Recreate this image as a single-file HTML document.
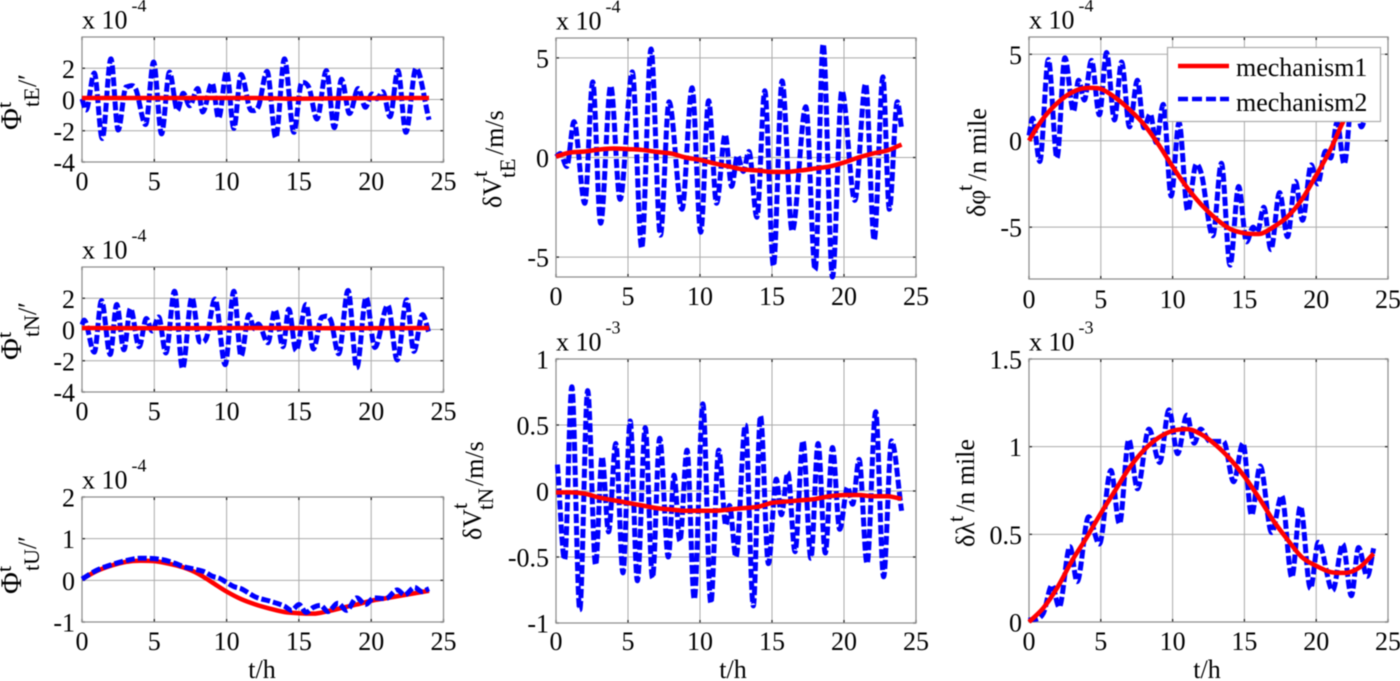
<!DOCTYPE html>
<html lang="en">
<head>
<meta charset="utf-8">
<title>Attitude, velocity and position error curves</title>
<style>
html,body{margin:0;padding:0;background:#fff;width:1400px;height:681px;overflow:hidden}
svg{display:block;font-family:"Liberation Serif","DejaVu Serif",serif;fill:#000;filter:blur(.4px)}
</style>
</head>
<body>
<svg id="figure" xmlns="http://www.w3.org/2000/svg" width="1400" height="681" viewBox="0 0 1400 681">
<g id="plots"></g>
<g id="legend">
  <rect x="1167.5" y="47.5" width="213" height="74" fill="#fff" stroke="#aaa" stroke-width="1.2"/>
  <line x1="1178" x2="1229" y1="66" y2="66" stroke="#f00" stroke-width="4.5"/>
  <text x="1236" y="76" font-size="26">mechanism1</text>
  <line x1="1178" x2="1229" y1="99" y2="99" stroke="#00f" stroke-width="4.5" stroke-dasharray="10 4"/>
  <text x="1236" y="111" font-size="26">mechanism2</text>
</g>
</svg>
<script>
const xTickValues = [0, 5, 10, 15, 20, 25];

const phiEYTicks = [-4, -2, 0, 2];
const phiNYTicks = [-4, -2, 0, 2];
const phiUYTicks = [-1, 0, 1, 2];
const velEYTicks = [-5, 0, 5];
const velNYTicks = [-1, -0.5, 0, 0.5, 1];
const latYTicks = [-5, 0, 5];
const lonYTicks = [0, 0.5, 1, 1.5];

const phiEMech2Hours = [0,.28,.85,1.4,2,2.5,3.05,3.7,4.4,4.95,5.5,6.05,6.6,7,7.45,8,8.35,9,9.45,10,10.5,11,11.7,12.2,12.8,13.4,14,14.65,15.2,15.7,16.25,16.9,17.45,17.95,18.5,19.1,19.6,20.05,20.4,20.8,21.3,21.85,22.4,23.1,24];
const phiEMech2Values = [.05,-.67,1.7,-2.5,2.6,-1.95,.8,.7,-1.6,2.4,-2.2,1.75,-.7,.4,-.4,.7,-.8,1.05,-1.2,1.8,-1.85,1.6,-.7,-.45,1.8,-2.45,2.6,-2.1,1.1,.75,-1.25,1.85,-1.8,1.3,-.9,.7,-.5,.35,.05,.5,-1.1,1.85,-2.1,2,-1.3];
const phiEMech1Hours = [0,6,12,14.5,18,24];
const phiEMech1Values = [.1,.1,.1,.05,.08,.1];

const phiNMech2Hours = [0,.15,.85,1.35,1.95,2.4,2.9,3.35,3.95,4.45,4.85,5.3,5.8,6.4,6.95,7.6,8.15,8.6,9.2,9.9,10.5,11,11.55,11.9,12.2,12.85,13.35,13.9,14.3,14.8,15.5,16,16.6,17.2,17.75,18.4,19,19.65,20.25,21.15,21.8,22.45,22.95,23.55,24];
const phiNMech2Values = [.3,.6,-1.45,1.85,-1.6,1.6,-1.3,1.35,-1.1,.7,-.1,.8,-1.5,2.45,-2.5,2.05,-.8,-.55,1.95,-2.25,2.45,-1.7,.95,.05,.35,-.85,1.25,-1.1,1.3,-1.35,1.6,-1.25,.8,.6,-1.55,2.5,-2.45,2.05,-1.15,1.55,-1.95,1.9,-1.4,.95,-.25];
const phiNMech1Hours = [0,6,12,18,24];
const phiNMech1Values = [.1,.08,.1,.08,.1];

const phiUMech2Hours = [0,1,2,3,4,5.5,6.5,7,8,8.5,9,9.5,10,10.5,11,12,13,14,14.5,15,15.5,16,16.5,17,17.7,18.3,19,19.6,20.2,21,21.8,22.3,23,23.5,24];
const phiUMech2Values = [.03,.24,.37,.47,.53,.5,.4,.33,.25,.2,.1,.05,-.05,-.15,-.2,-.4,-.5,-.62,-.72,-.58,-.77,-.65,-.6,-.75,-.55,-.72,-.42,-.58,-.42,-.44,-.23,-.35,-.17,-.27,-.2];
const phiUMech1Hours = [0,1,2,3,4,5,6,7,8,9,10,11,12,13,14,15,16,17,18,19,20,21,22,23,24];
const phiUMech1Values = [.03,.22,.35,.44,.47,.46,.4,.31,.165,-.05,-.27,-.45,-.58,-.68,-.76,-.79,-.8,-.74,-.66,-.58,-.49,-.43,-.37,-.31,-.25];

const velEMech2Hours = [0,.3,.75,1.25,2,2.55,3.1,3.8,4.45,5.3,5.95,6.6,7.25,7.85,8.75,9.45,10.05,10.6,11.15,11.75,12.2,12.6,13,13.4,13.95,14.5,15.1,15.7,16.4,17.35,18,18.55,19.2,19.85,20.75,21.5,22.1,22.7,23.15,23.7,24];
const velEMech2Values = [.03,.2,-.45,1.8,-2.3,3.8,-3.3,3.6,-2.1,4.3,-4.55,5.45,-3.9,2.8,-2.6,3.5,-3.75,2.85,-2.3,1.15,-1.45,.1,-.7,.3,-3,3.35,-5.45,3.85,-3.7,2.55,-5.65,5.7,-6,3.35,-2.15,3.7,-4.15,4.05,-2.6,2.8,1.45];
const velEMech1Hours = [0,1,2,3,4,5,6,7,8,9,10,11,12,13,14,15,16,17,18,19,20,21,22,23,24];
const velEMech1Values = [.05,.25,.3,.4,.45,.42,.38,.28,.2,0,-.12,-.3,-.45,-.6,-.65,-.72,-.72,-.65,-.55,-.45,-.25,0,.2,.35,.65];

const velNMech2Hours = [.1,.6,1.1,1.65,2.2,2.75,3.2,3.65,4.15,4.65,5.15,5.65,6.2,6.7,7.2,7.8,8.2,8.6,9.1,9.6,10.2,10.75,11.3,11.8,12.05,12.5,13.15,13.7,14.2,14.75,15.3,15.65,16.1,16.6,17.15,17.7,18.2,18.7,19.2,19.7,20.25,20.6,21.05,21.6,22.2,22.75,23.3,24];
const velNMech2Values = [.2,-.52,.79,-.9,.76,-.56,.26,-.31,.36,-.62,.53,-.68,.48,-.66,.4,-.5,.12,-.38,.31,-.82,.66,-.85,.31,-.26,-.11,-.5,.5,-.87,.57,-.55,.09,-.18,.14,-.46,.38,-.51,.36,-.47,.33,-.29,.03,-.1,.24,-.55,.6,-.65,.38,-.15];
const velNMech1Hours = [0,1,2,3,4,5,6,7,8,9,10,11,12,13,14,15,16,17,18,19,20,21,22,23,24];
const velNMech1Values = [-.01,-.01,-.02,-.05,-.07,-.09,-.11,-.13,-.14,-.15,-.15,-.15,-.14,-.13,-.12,-.09,-.08,-.07,-.06,-.04,-.03,-.03,-.04,-.04,-.06];

const latMech2Hours = [0,.25,.75,1.35,1.95,2.5,3.1,3.45,3.85,4.35,4.9,5.4,5.95,6.45,7,7.55,8,8.45,8.85,9.35,9.9,10.45,11.05,11.65,12,12.8,13.4,14,14.6,15.15,15.6,15.9,16.35,16.85,17.45,18,18.55,19.05,19.65,20.1,20.65,21,21.45,21.95,22.6,23.15,24];
const latMech2Values = [.3,1.3,-1.2,4.7,-1,4.8,1.7,3.5,2.35,4.65,1.5,5.1,1.2,4.55,.8,3.5,.75,1.55,-.1,2.1,-3.2,1.05,-4.05,-1.35,-1.9,-5.5,-1.3,-7.2,-2.65,-5.85,-5,-5.3,-3.85,-6.3,-3,-5.55,-2.35,-4.6,-1.4,-2.5,-.6,-1,1.05,-1.35,3.3,.8,5.4];
const latMech1Hours = [0,.5,1,2,3,4,5,6,7,8,9,10,11,12,13,14,15,16,17,18,19,20,21,22,23,24];
const latMech1Values = [0,.7,1.3,2.2,2.8,3.05,3,2.5,1.8,.95,-.2,-1.5,-2.7,-3.7,-4.5,-5.1,-5.35,-5.4,-5,-4.4,-3.4,-2,-.5,1.3,2.5,3.5];

const lonMech2Hours = [0,1,1.6,2.1,2.85,3.35,4.15,4.9,5.7,6.3,6.95,7.55,8.35,9.1,9.75,10.35,11,11.5,11.95,12.6,13.55,14.25,14.9,15.5,16.1,16.9,17.6,18.3,18.9,19.6,20.15,21.15,21.85,22.45,22.95,23.55,24];
const lonMech2Values = [.01,.05,.21,.085,.43,.23,.6,.445,.865,.56,1.04,.76,1.1,.91,1.21,.96,1.18,1.02,1.1,1.03,1.03,.8,1.02,.61,.89,.51,.72,.255,.66,.19,.455,.18,.445,.15,.425,.26,.42];
const lonMech1Hours = [0,1,2,3,4,5,6,7,8,9,10,11,12,13,14,15,16,17,18,19,20,21,22,23,24];
const lonMech1Values = [0,.08,.2,.35,.48,.62,.75,.88,.98,1.05,1.09,1.1,1.07,1.01,.93,.83,.71,.58,.47,.37,.32,.285,.28,.31,.39];

const layouts = [
  {id:'phi-e', left:82, right:443.5, top:37, bottom:162, yMin:-4, yMax:4, yTicks:phiEYTicks, hrs2:phiEMech2Hours, vals2:phiEMech2Values, hrs1:phiEMech1Hours, vals1:phiEMech1Values, exp:'-4', xBase:190,
   ylabel:[['Φ',21,130,30],['t',11,108,22],['tE',39,107,22],['/′',36,87,26]]},
  {id:'phi-n', left:82, right:443.5, top:267, bottom:392, yMin:-4, yMax:4, yTicks:phiNYTicks, hrs2:phiNMech2Hours, vals2:phiNMech2Values, hrs1:phiNMech1Hours, vals1:phiNMech1Values, exp:'-4', xBase:420,
   ylabel:[['Φ',21,360,30],['t',11,338,22],['tN',39,337,22],['/′',36,315,26]]},
  {id:'phi-u', left:82, right:443.5, top:497, bottom:622, yMin:-1, yMax:2, yTicks:phiUYTicks, hrs2:phiUMech2Hours, vals2:phiUMech2Values, hrs1:phiUMech1Hours, vals1:phiUMech1Values, exp:'-4', xBase:650, blueOnTop:true, xlabelX:262,
   ylabel:[['Φ',21,594,30],['t',11,572,22],['tU',39,571,22],['/′',36,549,26]]},
  {id:'vel-e', left:556, right:916, top:38, bottom:277, yMin:-6, yMax:6, yTicks:velEYTicks, hrs2:velEMech2Hours, vals2:velEMech2Values, hrs1:velEMech1Hours, vals1:velEMech1Values, exp:'-4', xBase:305,
   ylabel:[['δV',501,208,26],['t',487,177,22],['tE',515,178,22],['/m/s',503,155,26]]},
  {id:'vel-n', left:556, right:916, top:359, bottom:623, yMin:-1, yMax:1, yTicks:velNYTicks, hrs2:velNMech2Hours, vals2:velNMech2Values, hrs1:velNMech1Hours, vals1:velNMech1Values, exp:'-3', xBase:650, xlabelX:733,
   ylabel:[['δV',481,540,26],['t',467,509,22],['tN',493,510,22],['/m/s',483,486,26]]},
  {id:'lat', left:1029, right:1388, top:37, bottom:279, yMin:-8, yMax:6, yTicks:latYTicks, hrs2:latMech2Hours, vals2:latMech2Values, hrs1:latMech1Hours, vals1:latMech1Values, exp:'-4', xBase:308,
   ylabel:[['δφ',985,217,26],['t',972,191,22],['/n mile',986,181,26]]},
  {id:'lon', left:1029, right:1388, top:359, bottom:622, yMin:0, yMax:1.5, yTicks:lonYTicks, hrs2:lonMech2Hours, vals2:lonMech2Values, hrs1:lonMech1Hours, vals1:lonMech1Values, exp:'-3', xBase:650, xlabelX:1207,
   ylabel:[['δλ',974,547,26],['t',963,522,22],['/n mile',974,512,26]]}
];

const SVGNS = 'http://www.w3.org/2000/svg';
function mk(tag, attrs, parent, text) {
  const el = document.createElementNS(SVGNS, tag);
  for (const k in attrs) el.setAttribute(k, attrs[k]);
  if (text !== undefined) el.textContent = text;
  parent.appendChild(el);
  return el;
}
function smoothPath(hours, values, sx, sy) {
  const xs = hours.map(sx), ys = values.map(sy), n = xs.length;
  const slopes = [];
  for (let i = 0; i < n - 1; i++) slopes.push((ys[i+1]-ys[i])/(xs[i+1]-xs[i]));
  const tan = [];
  for (let i = 0; i < n; i++) {
    if (i === 0) tan.push(slopes[0]);
    else if (i === n-1) tan.push(slopes[n-2]);
    else if (slopes[i-1]*slopes[i] <= 0) tan.push(0);
    else tan.push((slopes[i-1]+slopes[i])/2);
  }
  let d = 'M' + xs[0].toFixed(2) + ' ' + ys[0].toFixed(2);
  for (let i = 0; i < n-1; i++) {
    const h = (xs[i+1]-xs[i])/3;
    d += 'C' + (xs[i]+h).toFixed(2) + ' ' + (ys[i]+tan[i]*h).toFixed(2) + ' ' +
         (xs[i+1]-h).toFixed(2) + ' ' + (ys[i+1]-tan[i+1]*h).toFixed(2) + ' ' +
         xs[i+1].toFixed(2) + ' ' + ys[i+1].toFixed(2);
  }
  return d;
}

const root = document.getElementById('plots');
layouts.forEach(function (p) {
  const g = mk('g', {}, root);
  
  
  const sx = function (t) { return p.left + t / 25 * (p.right - p.left); };
  const sy = function (v) { return p.bottom - (v - p.yMin) / (p.yMax - p.yMin) * (p.bottom - p.top); };

  xTickValues.forEach(function (t) {
    const x = sx(t);
    if (t > 0 && t < 25) {
      const gl = mk('line', {x1:x, x2:x, y1:p.top, y2:p.bottom, stroke:'#aaa', 'stroke-width':1}, g);
      
      
    }
    const t1 = mk('line', {x1:x, x2:x, y1:p.top, y2:p.top+3, stroke:'#222', 'stroke-width':1.3}, g);
    
    
    const t2 = mk('line', {x1:x, x2:x, y1:p.bottom, y2:p.bottom-3, stroke:'#222', 'stroke-width':1.3}, g);
    
    
    const lb = mk('text', {x:x, y:p.xBase, 'font-size':26, 'text-anchor':'middle'}, g, String(t));
    
    
  });
  p.yTicks.forEach(function (v) {
    const y = sy(v);
    if (v > p.yMin && v < p.yMax) {
      const gl = mk('line', {x1:p.left, x2:p.right, y1:y, y2:y, stroke:'#aaa', 'stroke-width':1}, g);
      
      
    }
    const t1 = mk('line', {x1:p.left, x2:p.left+3, y1:y, y2:y, stroke:'#222', 'stroke-width':1.3}, g);
    
    
    const t2 = mk('line', {x1:p.right, x2:p.right-3, y1:y, y2:y, stroke:'#222', 'stroke-width':1.3}, g);
    
    
    const lb = mk('text', {x:p.left-7, y:y+9.5, 'font-size':26, 'text-anchor':'end'}, g, String(v));
    
    
  });
  const box = mk('rect', {x:p.left, y:p.top, width:p.right-p.left, height:p.bottom-p.top, fill:'none', stroke:'#8a8a8a', 'stroke-width':1.2}, g);
  
  

  const drawRed = function () {
    const r = mk('path', {d:smoothPath(p.hrs1, p.vals1, sx, sy), fill:'none', stroke:'#f00', 'stroke-width':4.5, 'stroke-linejoin':'round'}, g);
    
    
  };
  const drawBlue = function () {
    const b = mk('path', {d:smoothPath(p.hrs2, p.vals2, sx, sy), fill:'none', stroke:'#00f', 'stroke-width':5, 'stroke-dasharray':'9 3', 'stroke-linejoin':'round'}, g);
    
    
  };
  if (p.blueOnTop) { drawRed(); drawBlue(); } else { drawBlue(); drawRed(); }

  const scale = mk('text', {x:p.left, y:p.top-8.5, 'font-size':26}, g, 'x 10');
  
  
  const exp = mk('text', {x:p.left+49.5, y:p.top-25.5, 'font-size':18}, g, p.exp);
  
  

  p.ylabel.forEach(function (part) {
    const tx = mk('text', {x:part[1], y:part[2], 'font-size':part[3], transform:'rotate(-90 ' + part[1] + ' ' + part[2] + ')'}, g, part[0]);
    
    
  });
  if (p.xlabelX) {
    const xl = mk('text', {x:p.xlabelX, y:678, 'font-size':26, 'text-anchor':'middle'}, g, 't/h');
    
    
  }
});
</script>
</body>
</html>
